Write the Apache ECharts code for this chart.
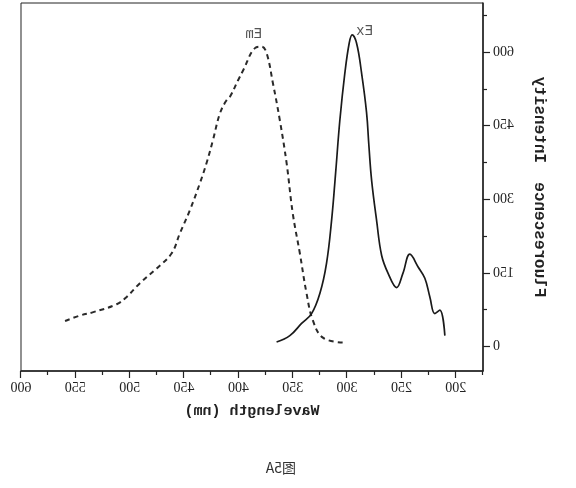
<!DOCTYPE html>
<html>
<head>
<meta charset="utf-8">
<script src="https://cdn.jsdelivr.net/npm/echarts@6/dist/echarts.min.js"></script>
<style>
  html, body { margin: 0; padding: 0; background: #fff; }
  /* the reference figure is a mirror image, so the whole chart is flipped */
  .mirror { width: 576px; height: 488px; transform: scaleX(-1); }
  #chart { width: 576px; height: 488px; }
</style>
</head>
<body>
<div class="mirror"><div id="chart"></div></div>
<script>
// emission spectrum (dashed)
const emWave = [559.5, 545.7, 533.5, 512, 502.8, 490.6, 475.2, 461.4, 453.8, 444.6, 435.4, 429.3, 423.5, 417, 410.9, 407.8, 400.2, 395.6, 384.8, 378.7, 374.1, 368.3, 361.9, 355.7, 350, 343.5, 337.3, 331.5, 322.3, 304]
const emValue = [52, 63, 70, 86, 101, 129, 159, 190, 231, 278, 333, 374, 420, 475, 502, 509, 543, 563, 608, 611, 598, 537, 461, 374, 271, 190, 108, 53, 18, 8]

// excitation spectrum (solid)
const exWave = [364.9, 352.7, 341.9, 332.7, 325.1, 319, 314.3, 310.4, 306.7, 302.1, 298.1, 295.4, 291.3, 286.7, 282.1, 280, 277.5, 272.9, 268.3, 262.3, 254.5, 248.7, 242.3, 234.7, 228.5, 223.9, 219.3, 214.7, 210.1]
const exValue = [9, 22, 47, 67, 108, 169, 257, 359, 461, 557, 618, 635, 618, 557, 476, 410, 339, 257, 186, 149, 120, 149, 188, 162, 139, 101, 67, 74, 22]

const xTicks = [200, 250, 300, 350, 400, 450, 500, 550, 600]
const xMinorTicks = [175, 225, 275, 325, 375, 425, 475, 525, 575]
const yTicks = [0, 150, 300, 450, 600]
const yMinorTicks = [75, 225, 375, 525, 675]

const serif = 'Liberation Serif'
const mono = 'Liberation Mono'
const zip = (a, b) => a.map((v, i) => [v, b[i]])

const chart = echarts.init(document.getElementById('chart'))

const baseX = {
  type: 'value',
  position: 'bottom',
  min: 175,
  max: 600,
  splitLine: { show: false }
}
const baseY = {
  type: 'value',
  position: 'left',
  min: -50,
  max: 700,
  splitLine: { show: false }
}
const tickLine = { color: '#222', width: 1.2 }

chart.setOption({
  animation: false,
  grid: {
    left: 93,
    right: 21,
    top: 3,
    bottom: 117,
    show: true,
    borderColor: '#222',
    borderWidth: 1
  },
  xAxis: [
    {
      ...baseX,
      name: 'Wavelength (nm)',
      nameLocation: 'middle',
      nameGap: 33,
      nameTextStyle: { fontFamily: mono, fontWeight: 'bold', fontSize: 15, color: '#222' },
      axisLine: { onZero: false, lineStyle: { color: '#222', width: 1.5 } },
      axisTick: { customValues: xTicks, length: 7, lineStyle: tickLine },
      axisLabel: { customValues: xTicks, margin: 10, fontFamily: serif, fontSize: 14, color: '#222' }
    },
    {
      ...baseX,
      axisLine: { show: false, onZero: false },
      axisTick: { customValues: xMinorTicks, length: 4, lineStyle: tickLine },
      axisLabel: { show: false }
    }
  ],
  yAxis: [
    {
      ...baseY,
      name: 'Fluorescence  Intensity',
      nameLocation: 'middle',
      nameGap: 48,
      nameTextStyle: { fontFamily: mono, fontWeight: 'bold', fontSize: 16, color: '#222' },
      axisLine: { show: true, onZero: false, lineStyle: { color: '#222', width: 1.5 } },
      axisTick: { show: true, customValues: yTicks, length: 7, lineStyle: tickLine },
      axisLabel: { customValues: yTicks, margin: 10, fontFamily: serif, fontSize: 14, color: '#222' }
    },
    {
      ...baseY,
      axisLine: { show: false, onZero: false },
      axisTick: { show: true, customValues: yMinorTicks, length: 4, lineStyle: tickLine },
      axisLabel: { show: false }
    }
  ],
  series: [
    {
      name: 'Em',
      type: 'line',
      data: zip(emWave, emValue),
      smooth: 0.4,
      showSymbol: false,
      lineStyle: { color: '#2a2a2a', width: 2, type: [5, 4] },
      markPoint: {
        symbol: 'circle',
        symbolSize: 0,
        data: [{ coord: [386, 636] }],
        label: { show: true, formatter: 'Em', fontFamily: mono, fontSize: 14, color: '#555' }
      }
    },
    {
      name: 'Ex',
      type: 'line',
      data: zip(exWave, exValue),
      smooth: 0.4,
      showSymbol: false,
      lineStyle: { color: '#1a1a1a', width: 1.7 },
      markPoint: {
        symbol: 'circle',
        symbolSize: 0,
        data: [{ coord: [284, 643] }],
        label: { show: true, formatter: 'Ex', fontFamily: mono, fontSize: 14, color: '#555' }
      }
    }
  ],
  graphic: [
    {
      type: 'text',
      left: 280,
      top: 461,
      style: { text: '图5A', font: '14px "Noto Sans CJK SC", sans-serif', fill: '#333' }
    }
  ]
})
</script>
</body>
</html>
